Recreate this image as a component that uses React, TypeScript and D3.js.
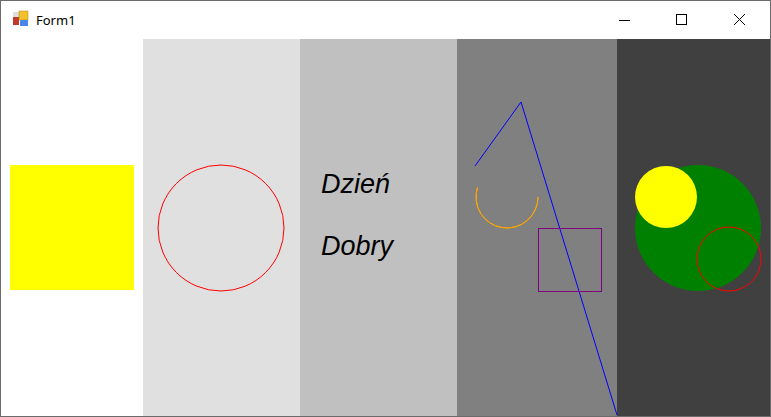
import * as d3 from "d3";

// panel backgrounds: [x0, x1, colour]
const panelEdges = [1, 143, 300, 457, 617, 770];
const panelFills = ["#ffffff", "#e0e0e0", "#c0c0c0", "#808080", "#404040"];

const words = ["Dzień", "Dobry"];
const wordBaselines = [193, 255];

// circles: cx, cy, r
const circles = [
  { cx: 221, cy: 228, r: 63, fill: "none", stroke: "#ff0000" },
  { cx: 698, cy: 228, r: 63, fill: "#008000", stroke: "none" },
  { cx: 666, cy: 197, r: 31, fill: "#ffff00", stroke: "none" },
  { cx: 729, cy: 259, r: 32, fill: "none", stroke: "#ff0000" },
];
const polyline: [number, number][] = [[475, 166], [521, 102], [617, 415]];

export default function App() {
  const line = d3.line()(polyline) || "";
  const arc = d3.arc()({ innerRadius: 31, outerRadius: 31, startAngle: Math.PI / 2, endAngle: Math.PI * 1.6 }) || "";
  return (
    <svg width={771} height={417} style={{ position: "absolute", left: 0, top: 0 }}>
      <rect x={0.5} y={0.5} width={770} height={416} fill="#fff" stroke="#6b6b6b" />
      <g>
        <rect x={13} y={12} width={6} height={6} fill="#ddd" />
        <rect x={13} y={17} width={6} height={8} fill="#c0392b" />
        <rect x={19} y={11} width={9} height={9} fill="#f2c12e" stroke="#b8860b" strokeWidth={0.5} />
        <rect x={20} y={20} width={8} height={6} fill="#4a86e8" />
      </g>
      <text x={36} y={25} fontFamily="Noto Sans, sans-serif" fontSize={13} fill="#000">Form1</text>
      <line x1={619} x2={630} y1={20.5} y2={20.5} stroke="#000" />
      <rect x={676.5} y={14.5} width={10} height={10} fill="none" stroke="#000" />
      <path d="M734,14L745,25M745,14L734,25" stroke="#000" />
      {panelFills.map((f, i) => (
        <rect key={i} x={panelEdges[i]} y={39} width={panelEdges[i + 1] - panelEdges[i]} height={377} fill={f} />
      ))}
      <rect x={10} y={165} width={124} height={125} fill="#ffff00" />
      {words.map((w, i) => (
        <text key={w} x={321} y={wordBaselines[i]} fontFamily="Liberation Sans, Arial, sans-serif" fontStyle="italic" fontSize={27} fill="#000">{w}</text>
      ))}
      <path d={line} fill="none" stroke="#0000ff" />
      <path d={arc} transform="translate(507,197)" fill="none" stroke="#ffa500" />
      <rect x={538.5} y={228.5} width={63} height={63} fill="none" stroke="#800080" />
      {circles.map((c, i) => (
        <circle key={i} cx={c.cx} cy={c.cy} r={c.r} fill={c.fill} stroke={c.stroke} />
      ))}
    </svg>
  );
}
